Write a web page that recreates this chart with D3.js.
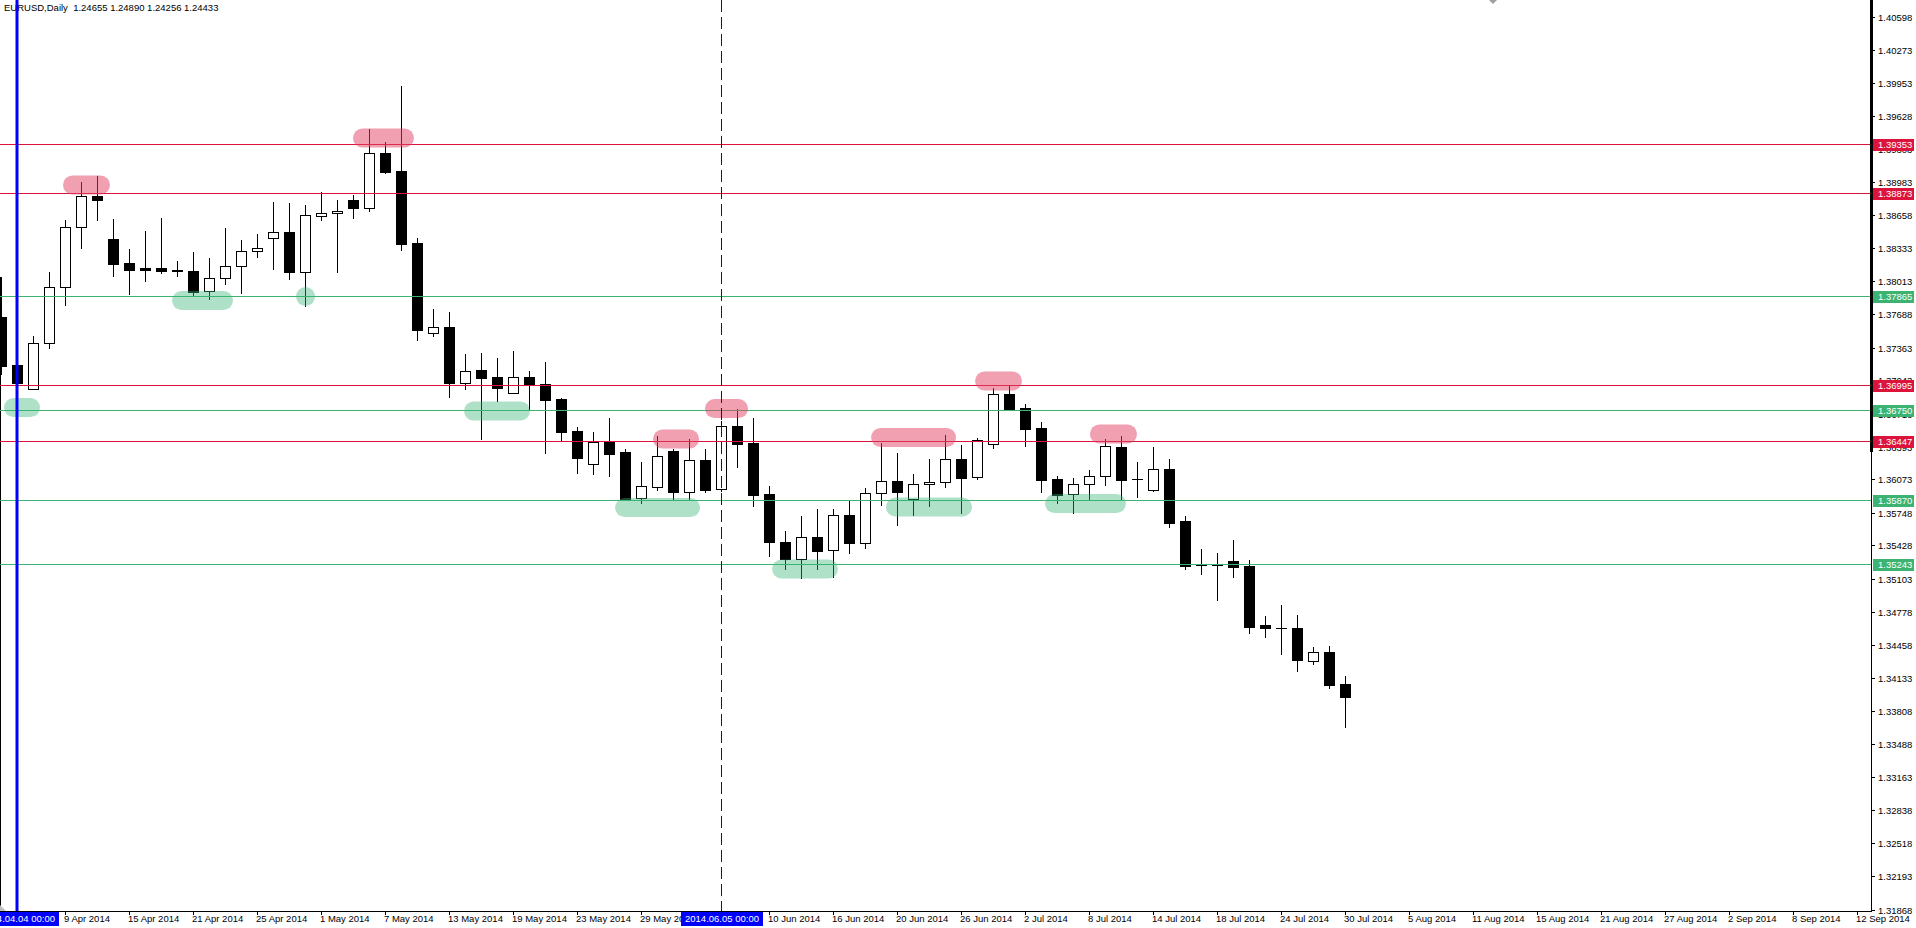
<!DOCTYPE html>
<html>
<head>
<meta charset="utf-8">
<script src="https://cdn.jsdelivr.net/npm/d3@7"></script>
<style>
  html, body { margin: 0; padding: 0; background: #fff; overflow: hidden; }
  text { font-family: "Liberation Sans", Arial, sans-serif; font-size: 9.5px; white-space: pre; }
</style>
</head>
<body>
<div id="chart"></div>
<script>

// daily bars, 3 Apr 2014 .. 30 Jul 2014 (one value per trading day)
var opens = [1.37664, 1.37192, 1.36960, 1.37404, 1.37955, 1.38538, 1.38844, 1.38424, 1.38189, 1.38140,
  1.38140, 1.38124, 1.38111, 1.37913, 1.38040, 1.38157, 1.38304, 1.38431, 1.38493, 1.38105,
  1.38647, 1.38676, 1.38805, 1.38730, 1.39265, 1.39089, 1.38385, 1.37508, 1.37564, 1.37019,
  1.37140, 1.37075, 1.36915, 1.37075, 1.37003, 1.36859, 1.36546, 1.36222, 1.36442, 1.36344,
  1.35888, 1.36002, 1.36353, 1.35953, 1.36262, 1.35976, 1.36595, 1.36429, 1.35931, 1.35458,
  1.35298, 1.35507, 1.35386, 1.35725, 1.35454, 1.35937, 1.36055, 1.35878, 1.36025, 1.36045,
  1.36270, 1.36094, 1.36417, 1.36908, 1.36768, 1.36576, 1.36077, 1.35931, 1.36028, 1.36103,
  1.36390, 1.36077, 1.35972, 1.36175, 1.35666, 1.35233, 1.35233, 1.35272, 1.35226, 1.34646,
  1.34620, 1.34620, 1.34294, 1.34386, 1.34072];
var highs = [1.38055, 1.37260, 1.37475, 1.38101, 1.38610, 1.38981, 1.39040, 1.38620, 1.38326, 1.38502,
  1.38626, 1.38209, 1.38297, 1.38238, 1.38532, 1.38414, 1.38473, 1.38786, 1.38776, 1.38757,
  1.38884, 1.38805, 1.38854, 1.39500, 1.39373, 1.39920, 1.38434, 1.37740, 1.37710, 1.37299,
  1.37309, 1.37260, 1.37329, 1.37133, 1.37221, 1.36869, 1.36589, 1.36540, 1.36674, 1.36373,
  1.36243, 1.36501, 1.36367, 1.36471, 1.36371, 1.36640, 1.36759, 1.36674, 1.36009, 1.35569,
  1.35715, 1.35784, 1.35784, 1.35866, 1.35989, 1.36429, 1.36331, 1.36126, 1.36273, 1.36507,
  1.36410, 1.36475, 1.36964, 1.36987, 1.36810, 1.36634, 1.36106, 1.36084, 1.36165, 1.36468,
  1.36497, 1.36243, 1.36390, 1.36273, 1.35715, 1.35392, 1.35353, 1.35481, 1.35285, 1.34737,
  1.34845, 1.34747, 1.34434, 1.34444, 1.34151];
var lows = [1.37100, 1.36960, 1.36954, 1.37361, 1.37779, 1.38339, 1.38610, 1.38065, 1.37889, 1.38016,
  1.38094, 1.38065, 1.37867, 1.37840, 1.37987, 1.37899, 1.38248, 1.38134, 1.38036, 1.37772,
  1.38613, 1.38104, 1.38632, 1.38701, 1.39070, 1.38316, 1.37436, 1.37475, 1.36882, 1.36957,
  1.36468, 1.36840, 1.36915, 1.36762, 1.36334, 1.36449, 1.36139, 1.36129, 1.36110, 1.35878,
  1.35845, 1.35973, 1.35878, 1.35878, 1.35953, 1.35960, 1.36197, 1.35816, 1.35327, 1.35197,
  1.35112, 1.35197, 1.35122, 1.35351, 1.35406, 1.35826, 1.35630, 1.35725, 1.35816, 1.36002,
  1.35748, 1.36080, 1.36384, 1.36752, 1.36400, 1.35953, 1.35845, 1.35748, 1.35872, 1.36021,
  1.35872, 1.35905, 1.35960, 1.35608, 1.35200, 1.35151, 1.34897, 1.35122, 1.34574, 1.34535,
  1.34369, 1.34203, 1.34265, 1.34036, 1.33655];
var closes = [1.37182, 1.37019, 1.37404, 1.37955, 1.38538, 1.38844, 1.38808, 1.38183, 1.38124, 1.38124,
  1.38114, 1.38108, 1.37909, 1.38043, 1.38157, 1.38307, 1.38333, 1.38493, 1.38105, 1.38656,
  1.38676, 1.38696, 1.38730, 1.39262, 1.39079, 1.38375, 1.37537, 1.37561, 1.37016, 1.37130,
  1.37068, 1.36970, 1.37072, 1.36996, 1.36853, 1.36540, 1.36285, 1.36439, 1.36324, 1.35884,
  1.36009, 1.36302, 1.35953, 1.36262, 1.35972, 1.36592, 1.36422, 1.35921, 1.35464, 1.35298,
  1.35507, 1.35376, 1.35725, 1.35454, 1.35937, 1.36055, 1.35953, 1.36025, 1.36045, 1.36272,
  1.36090, 1.36456, 1.36908, 1.36764, 1.36566, 1.36070, 1.35921, 1.36028, 1.36106, 1.36397,
  1.36070, 1.36077, 1.36175, 1.35647, 1.35229, 1.35233, 1.35233, 1.35220, 1.34633, 1.34617,
  1.34620, 1.34304, 1.34382, 1.34066, 1.33948];

var priceTicks = [1.40598, 1.40273, 1.39953, 1.39628, 1.39303, 1.38983, 1.38658, 1.38333, 1.38013,
  1.37688, 1.37363, 1.37043, 1.36718, 1.36393, 1.36073, 1.35748, 1.35428, 1.35103, 1.34778,
  1.34458, 1.34133, 1.33808, 1.33488, 1.33163, 1.32838, 1.32518, 1.32193, 1.31868];

var tickDates = ["2014-04-03", "2014-04-09", "2014-04-15", "2014-04-21", "2014-04-25", "2014-05-01",
  "2014-05-07", "2014-05-13", "2014-05-19", "2014-05-23", "2014-05-29", "2014-06-04", "2014-06-10",
  "2014-06-16", "2014-06-20", "2014-06-26", "2014-07-02", "2014-07-08", "2014-07-14", "2014-07-18",
  "2014-07-24", "2014-07-30", "2014-08-05", "2014-08-11", "2014-08-15", "2014-08-21", "2014-08-27",
  "2014-09-02", "2014-09-08", "2014-09-12"];

var resistLevels = [1.39353, 1.38873, 1.36995, 1.36447];
var supportLevels = [1.37865, 1.36750, 1.35870, 1.35243];

var solidLineDate = "2014-04-04";
var dashLineDate = "2014-06-05";

// hand drawn highlights: [from bar, to bar, price] (bar 0 = 4 Apr)
var pinkMarks = [[2.875, 5.81, 1.38952], [21.0, 24.81, 1.39412], [39.75, 42.63, 1.36468],
  [43.0, 45.69, 1.36766], [53.38, 58.69, 1.36483], [59.88, 62.81, 1.37036], [67.06, 70.0, 1.36517]];
var greenMarks = [[-0.81, 1.44, 1.36776], [9.69, 13.5, 1.37823], [17.44, 18.63, 1.37862],
  [27.94, 32.06, 1.36742], [37.38, 42.69, 1.35798], [47.19, 51.31, 1.35197],
  [54.31, 59.69, 1.35803], [64.25, 69.31, 1.35837]];

var titleText = "EURUSD,Daily  1.24655 1.24890 1.24256 1.24433";

var w = 1916,
    h = 928,
    plotBottom = 911,
    axisX = 1871;

var fmtIso = d3.utcFormat("%Y-%m-%d"),
    fmtTick = d3.utcFormat("%-d %b %Y"),
    fmtSel = d3.utcFormat("%Y.%m.%d %H:%M"),
    parseIso = d3.utcParse("%Y-%m-%d");

var days = d3.utcDays(Date.UTC(2014, 3, 3), Date.UTC(2014, 8, 13))
    .filter(function(d) { return d.getUTCDay() % 6 !== 0; })
    .map(fmtIso);

var x = d3.scalePoint()
    .domain(days)
    .range([1, 1857]);

// fractional bar index -> pixel (index 0 is the 4 Apr bar)
var xi = d3.scaleLinear()
    .domain([-1, days.length - 2])
    .range(x.range());

var y = d3.scaleLinear()
    .domain([1.318534, 1.407614])
    .range([plotBottom, 0]);

function py(p) { return Math.round(y(p)); }

var bars = opens.map(function(o, i) {
  return { date: days[i], o: o, h: highs[i], l: lows[i], c: closes[i] };
});

var svg = d3.select("#chart").append("svg")
    .attr("width", w)
    .attr("height", h)
    .style("display", "block");

var defs = svg.append("defs");
defs.append("filter")
    .attr("id", "soft")
    .append("feGaussianBlur")
    .attr("stdDeviation", 0.7);

svg.append("rect")
    .attr("width", w)
    .attr("height", h)
    .attr("fill", "#fff");

// title
svg.append("text")
    .attr("x", 4)
    .attr("y", 11)
    .attr("fill", "#000")
    .text(titleText);

// left edge line
svg.append("line")
    .attr("x1", 0.5).attr("x2", 0.5)
    .attr("y1", py(highs[0])).attr("y2", plotBottom)
    .attr("stroke", "#000");

// candles
var cg = svg.append("g").attr("shape-rendering", "crispEdges");

bars.forEach(function(d) {
  var cx = Math.round(x(d.date)),
      top = py(Math.max(d.o, d.c)),
      bot = py(Math.min(d.o, d.c));

  cg.append("line")
      .attr("x1", cx + 0.5).attr("x2", cx + 0.5)
      .attr("y1", py(d.h)).attr("y2", py(d.l) + 1)
      .attr("stroke", "#000");

  if (bot - top < 1) {
    cg.append("line")
        .attr("x1", cx - 5).attr("x2", cx + 6)
        .attr("y1", top + 0.5).attr("y2", top + 0.5)
        .attr("stroke", "#000");
  } else {
    cg.append("rect")
        .attr("x", cx - 4.5)
        .attr("y", top + 0.5)
        .attr("width", 10)
        .attr("height", bot - top)
        .attr("fill", d.c >= d.o ? "#fff" : "#000")
        .attr("stroke", "#000");
  }
});

// horizontal levels
function levelLines(levels, color) {
  svg.append("g").selectAll("line")
      .data(levels)
      .enter().append("line")
      .attr("x1", 0).attr("x2", axisX)
      .attr("y1", function(d) { return py(d) + 0.5; })
      .attr("y2", function(d) { return py(d) + 0.5; })
      .attr("stroke", color)
      .attr("stroke-width", 1);
}
levelLines(resistLevels, "#dc143c");
levelLines(supportLevels, "#3cb371");

// highlighter marks
function marks(list, color, opacity) {
  svg.append("g")
      .attr("filter", "url(#soft)")
      .selectAll("rect")
      .data(list)
      .enter().append("rect")
      .attr("x", function(d) { return xi(d[0]); })
      .attr("width", function(d) { return xi(d[1]) - xi(d[0]); })
      .attr("y", function(d) { return y(d[2]) - 9.5; })
      .attr("height", 19)
      .attr("rx", 9.5)
      .attr("fill", color)
      .attr("fill-opacity", opacity);
}
marks(pinkMarks, "#e14161", 0.5);
marks(greenMarks, "#3ab476", 0.4);

// vertical lines
svg.append("line")
    .attr("x1", Math.round(x(dashLineDate)) + 0.5)
    .attr("x2", Math.round(x(dashLineDate)) + 0.5)
    .attr("y1", 0).attr("y2", plotBottom)
    .attr("stroke", "#0000ff")
    .attr("stroke-dasharray", "12,5");

svg.append("line")
    .attr("x1", Math.round(x(solidLineDate)))
    .attr("x2", Math.round(x(solidLineDate)))
    .attr("y1", 0).attr("y2", plotBottom)
    .attr("stroke", "#0000ff")
    .attr("stroke-width", 3);

// small grey markers
svg.append("path")
    .attr("d", "M1489,0L1497,0L1493,4Z")
    .attr("fill", "#a0a0a0");
svg.append("path")
    .attr("d", "M0,905L0,911L6,911Z")
    .attr("fill", "#c0c0c0");

// price axis
svg.append("line")
    .attr("x1", axisX + 0.5).attr("x2", axisX + 0.5)
    .attr("y1", 0).attr("y2", plotBottom + 1)
    .attr("stroke", "#000");
svg.append("line")
    .attr("x1", axisX + 0.5).attr("x2", axisX + 0.5)
    .attr("y1", 0).attr("y2", 452)
    .attr("stroke", "#000")
    .attr("stroke-width", 3);

var yAxis = svg.append("g");
yAxis.selectAll("line")
    .data(priceTicks)
    .enter().append("line")
    .attr("x1", axisX + 1).attr("x2", axisX + 4)
    .attr("y1", function(d) { return py(d) + 0.5; })
    .attr("y2", function(d) { return py(d) + 0.5; })
    .attr("stroke", "#000");
yAxis.selectAll("text")
    .data(priceTicks)
    .enter().append("text")
    .attr("x", axisX + 7)
    .attr("y", function(d) { return py(d) + 4; })
    .attr("fill", "#000")
    .text(function(d) { return d.toFixed(5); });

function levelTags(levels, color) {
  var g = svg.append("g").selectAll("g")
      .data(levels)
      .enter().append("g");
  g.append("rect")
      .attr("x", axisX + 2)
      .attr("y", function(d) { return py(d) - 5; })
      .attr("width", 41)
      .attr("height", 12)
      .attr("fill", color);
  g.append("text")
      .attr("x", axisX + 7)
      .attr("y", function(d) { return py(d) + 4; })
      .attr("fill", "#fff")
      .text(function(d) { return d.toFixed(5); });
}
levelTags(resistLevels, "#dc143c");
levelTags(supportLevels, "#3cb371");

// time axis
svg.append("line")
    .attr("x1", 0).attr("x2", axisX + 1)
    .attr("y1", plotBottom + 0.5).attr("y2", plotBottom + 0.5)
    .attr("stroke", "#000");

var xAxis = svg.append("g");
xAxis.selectAll("line")
    .data(tickDates)
    .enter().append("line")
    .attr("x1", function(d) { return Math.round(x(d)) + 0.5; })
    .attr("x2", function(d) { return Math.round(x(d)) + 0.5; })
    .attr("y1", plotBottom + 1).attr("y2", plotBottom + 4)
    .attr("stroke", "#000");
xAxis.selectAll("text")
    .data(tickDates)
    .enter().append("text")
    .attr("x", function(d) { return Math.round(x(d)) - 1; })
    .attr("y", 922)
    .attr("fill", "#000")
    .text(function(d) { return fmtTick(parseIso(d)); });

// selected date tags
[solidLineDate, dashLineDate].forEach(function(d) {
  var cx = Math.round(x(d));
  var g = svg.append("g");
  var t = g.append("text")
      .attr("x", cx + 1)
      .attr("y", 922)
      .attr("text-anchor", "middle")
      .attr("fill", "#fff")
      .text(fmtSel(parseIso(d)));
  var bw = t.node().getComputedTextLength() + 8;
  g.insert("rect", "text")
      .attr("x", cx + 1 - bw / 2)
      .attr("y", plotBottom + 1)
      .attr("width", bw)
      .attr("height", 14)
      .attr("fill", "#0000ff");
});

</script>
</body>
</html>
